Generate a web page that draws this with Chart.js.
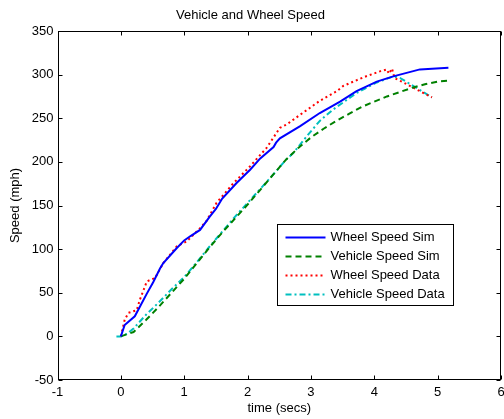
<!DOCTYPE html>
<html>
<head>
<meta charset="utf-8">
<title>Vehicle and Wheel Speed</title>
<script src="https://cdn.jsdelivr.net/npm/chart.js@4.4.0/dist/chart.umd.min.js"></script>
<style>
  html, body { margin: 0; padding: 0; background: #fff; }
  #chart { display: block; }
</style>
</head>
<body>
<canvas id="chart" width="504" height="419"></canvas>
<script>
// values (time in secs, speed in mph)
const wheelSimTime = [0, 0.06, 0.22, 0.3, 0.41, 0.51, 0.62, 0.67, 0.88, 1.0, 1.1, 1.25, 1.4, 1.5, 1.6, 1.83, 2.04, 2.2, 2.41, 2.45, 2.51, 2.83, 3.14, 3.46, 3.72, 4.04, 4.3, 4.72, 5.17];
const wheelSimSpeed = [0, 13, 23, 34, 49, 62, 78, 84, 101, 110, 115, 122, 137, 146, 158, 176, 191, 204, 217, 222, 227, 241, 256, 269, 281, 292, 298, 306, 308];

const vehicleSimTime = [0, 0.2, 0.4, 0.6, 0.8, 1.0, 1.2, 1.4, 1.6, 1.8, 2.0, 2.2, 2.4, 2.6, 2.8, 3.0, 3.2, 3.4, 3.6, 3.8, 4.0, 4.2, 4.4, 4.6, 4.8, 5.0, 5.17];
const vehicleSimSpeed = [0, 5, 19, 34, 50, 66, 84, 102, 119, 135, 151, 168, 185, 202, 216, 228, 238, 247, 255, 263, 269, 275, 280, 285, 289, 292, 293];

const wheelDataTime = [0, 0.06, 0.12, 0.25, 0.3, 0.41, 0.54, 0.67, 0.88, 1.04, 1.25, 1.35, 1.51, 1.77, 2.04, 2.3, 2.51, 2.62, 2.83, 3.14, 3.41, 3.51, 3.83, 4.1, 4.2, 4.23, 4.28, 4.32, 4.46, 4.72, 4.91];
const wheelDataSpeed = [0, 19, 27, 30, 42, 63, 67, 84, 103, 109, 124, 132, 153, 175, 195, 216, 239, 243, 254, 270, 281, 287, 297, 304, 306, 301, 307, 296, 291, 281, 274];

const vehicleDataTime = [-0.07, 0, 0.1, 0.2, 0.4, 0.6, 0.8, 1.0, 1.2, 1.4, 1.6, 1.8, 2.0, 2.2, 2.4, 2.6, 2.72, 2.93, 3.14, 3.35, 3.72, 4.04, 4.3, 4.41, 4.57, 4.91];
const vehicleDataSpeed = [0, 0, 3, 9, 25, 39, 54, 68, 85, 103, 120, 137, 153, 169, 185, 202, 210, 229, 247, 260, 279, 291, 298, 296, 289, 274];

const xTicks = [-1, 0, 1, 2, 3, 4, 5, 6];
const yTicks = [-50, 0, 50, 100, 150, 200, 250, 300, 350];

const FONT = 'Helvetica, Arial, "Liberation Sans", sans-serif';

function points(ts, vs) {
  return ts.map((t, i) => ({ x: t, y: vs[i] }));
}

// matlab style box with inward ticks + legend inside the axes
const frame = {
  id: 'frame',
  afterDatasetsDraw(chart) {
    const { ctx, chartArea: a, scales: { x, y } } = chart;
    const L = Math.round(a.left) + 0.5, R = Math.round(a.right) - 0.5;
    const T = Math.round(a.top) + 0.5, B = Math.round(a.bottom) - 0.5;
    ctx.save();
    ctx.strokeStyle = '#000';
    ctx.lineWidth = 1;
    ctx.strokeRect(L, T, R - L, B - T);
    ctx.beginPath();
    xTicks.forEach(v => {
      const px = Math.round(x.getPixelForValue(v)) + 0.5;
      ctx.moveTo(px, B); ctx.lineTo(px, B - 4);
      ctx.moveTo(px, T); ctx.lineTo(px, T + 4);
    });
    yTicks.forEach(v => {
      const py = Math.round(y.getPixelForValue(v)) + 0.5;
      ctx.moveTo(L, py); ctx.lineTo(L + 4, py);
      ctx.moveTo(R, py); ctx.lineTo(R - 4, py);
    });
    ctx.stroke();

    // legend
    const bx = 277.5, by = 224.5, bw = 176, bh = 81;
    ctx.fillStyle = '#fff';
    ctx.fillRect(bx, by, bw, bh);
    ctx.strokeRect(bx, by, bw, bh);
    ctx.font = '13px ' + FONT;
    ctx.textBaseline = 'middle';
    chart.data.datasets.forEach((ds, i) => {
      const ry = Math.round(by + 12 + i * 19) + 0.5;
      ctx.strokeStyle = ds.borderColor;
      ctx.lineWidth = ds.borderWidth;
      ctx.setLineDash(ds.borderDash || []);
      ctx.beginPath();
      ctx.moveTo(bx + 8, ry); ctx.lineTo(bx + 48, ry);
      ctx.stroke();
      ctx.setLineDash([]);
      ctx.fillStyle = '#000';
      ctx.fillText(ds.label, bx + 53, ry);
    });
    ctx.restore();
  }
};

new Chart(document.getElementById('chart'), {
  type: 'line',
  data: {
    datasets: [
      {
        label: 'Wheel Speed Sim',
        data: points(wheelSimTime, wheelSimSpeed),
        borderColor: '#0000ff',
        borderWidth: 2,
      },
      {
        label: 'Vehicle Speed Sim',
        data: points(vehicleSimTime, vehicleSimSpeed),
        borderColor: '#008000',
        borderWidth: 2,
        borderDash: [6, 4],
      },
      {
        label: 'Wheel Speed Data',
        data: points(wheelDataTime, wheelDataSpeed),
        borderColor: '#ff0000',
        borderWidth: 2,
        borderDash: [2, 3],
      },
      {
        label: 'Vehicle Speed Data',
        data: points(vehicleDataTime, vehicleDataSpeed),
        borderColor: '#00bfbf',
        borderWidth: 2,
        borderDash: [6, 3, 2, 3],
      }
    ]
  },
  options: {
    responsive: false,
    animation: false,
    events: [],
    elements: { point: { radius: 0 }, line: { tension: 0 } },
    layout: { padding: { right: 3 } },
    plugins: {
      legend: { display: false },
      tooltip: { enabled: false },
      title: {
        display: true,
        text: 'Vehicle and Wheel Speed',
        color: '#000',
        font: { family: FONT, size: 13, weight: 'normal' },
        padding: { top: 8, bottom: 7.4 }
      }
    },
    scales: {
      x: {
        type: 'linear',
        min: -1,
        max: 6,
        afterFit: (s) => { s.height = 39; s.paddingRight = 0; s.paddingLeft = 0; },
        afterBuildTicks: (s) => { s.ticks = xTicks.map(v => ({ value: v })); },
        grid: { display: false, drawTicks: false },
        border: { display: false },
        ticks: { color: '#000', padding: 5, font: { family: FONT, size: 13 } },
        title: {
          display: true,
          text: 'time (secs)',
          color: '#000',
          font: { family: FONT, size: 13 },
          padding: { top: 0, bottom: 3 }
        }
      },
      y: {
        min: -50,
        max: 350,
        afterFit: (s) => { s.width = 57.5; },
        afterBuildTicks: (s) => { s.ticks = yTicks.map(v => ({ value: v })); },
        grid: { display: false, drawTicks: false },
        border: { display: false },
        ticks: { color: '#000', padding: 4, font: { family: FONT, size: 13 } },
        title: {
          display: true,
          text: 'Speed (mph)',
          color: '#000',
          font: { family: FONT, size: 13 },
          padding: { top: 8, bottom: 0 }
        }
      }
    }
  },
  plugins: [frame]
});
</script>
</body>
</html>
